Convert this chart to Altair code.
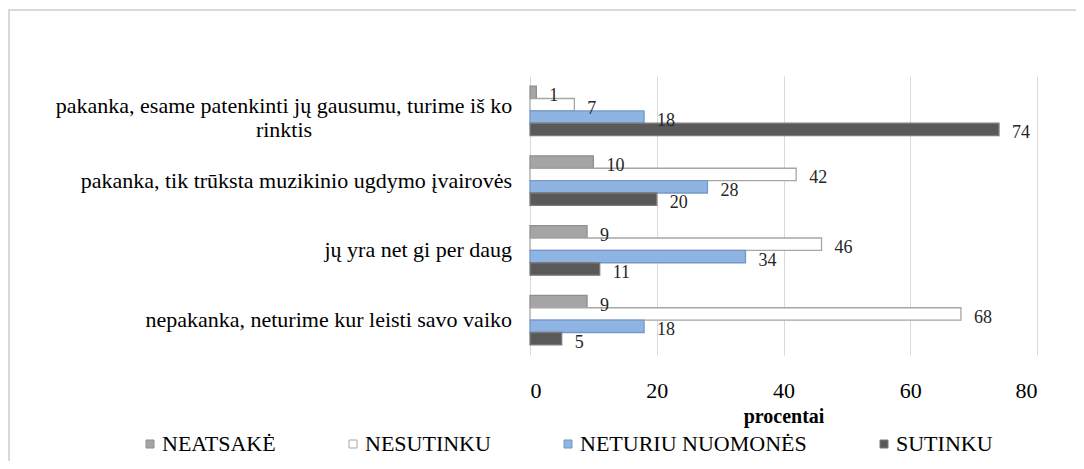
import altair as alt
import pandas as pd

FONT = "Liberation Serif"

categories = [
    "pakanka, esame patenkinti jų gausumu, turime iš ko rinktis",
    "pakanka, tik trūksta muzikinio ugdymo įvairovės",
    "jų yra net gi per daug",
    "nepakanka, neturime kur leisti savo vaiko",
]
category_lines = [
    ["pakanka, esame patenkinti jų gausumu, turime iš ko", "rinktis"],
    ["pakanka, tik trūksta muzikinio ugdymo įvairovės"],
    ["jų yra net gi per daug"],
    ["nepakanka, neturime kur leisti savo vaiko"],
]
series = ["NEATSAKĖ", "NESUTINKU", "NETURIU NUOMONĖS", "SUTINKU"]
neatsake = [1, 10, 9, 9]
nesutinku = [7, 42, 46, 68]
neturiu = [18, 28, 34, 18]
sutinku = [74, 20, 11, 5]
x_ticks = [0, 20, 40, 60, 80]

fills = ["#a5a5a5", "#ffffff", "#8eb4e3", "#595959"]
strokes = ["#8f8f8f", "#a6a6a6", "#7598c8", "#7a7a7a"]

rows = []
for s, vals in zip(series, [neatsake, nesutinku, neturiu, sutinku]):
    for c, v in zip(categories, vals):
        rows.append({"category": c, "series": s, "value": v})
df = pd.DataFrame(rows)

lab_df = pd.DataFrame({
    "category": categories,
    "label": ["\n".join(l) for l in category_lines],
    "nlines": [len(l) for l in category_lines],
})

y_enc = alt.Y("category:N", sort=categories,
              scale=alt.Scale(domain=categories, paddingInner=0.29, paddingOuter=0.145),
              axis=None)
yoff_enc = alt.YOffset("series:N", sort=series,
                       scale=alt.Scale(domain=series, paddingInner=0, paddingOuter=0))
x_enc = alt.X("value:Q",
              scale=alt.Scale(domain=[0, 80], nice=False, zero=True),
              axis=alt.Axis(values=x_ticks, title="procentai", grid=True,
                            gridColor="#d9d9d9", gridWidth=1, ticks=False, domain=False,
                            labelFont=FONT, labelFontSize=22, labelColor="#000000",
                            labelPadding=25, titleFont=FONT, titleFontSize=20,
                            titleFontWeight="bold", titleColor="#000000",
                            titleBaseline="middle", titleY=61))

legend = alt.Legend(orient="none", legendX=-391, legendY=357, direction="horizontal",
                    columns=4, title=None, symbolType="square", symbolSize=64,
                    symbolStrokeWidth=1, labelFont=FONT, labelFontSize=22,
                    labelColor="#000000", columnPadding=66, labelOffset=1,
                    labelLimit=600)

bars = alt.Chart(df).mark_bar(strokeWidth=1.3).encode(
    x=x_enc,
    y=y_enc,
    yOffset=yoff_enc,
    fill=alt.Fill("series:N", sort=series, scale=alt.Scale(domain=series, range=fills), legend=legend),
    stroke=alt.Stroke("series:N", sort=series, scale=alt.Scale(domain=series, range=strokes), legend=legend),
)

values_text = alt.Chart(df).mark_text(align="left", baseline="middle", dx=13, dy=4,
                                       font=FONT, fontSize=18, color="#262626").encode(
    x="value:Q",
    y=y_enc,
    yOffset=yoff_enc,
    text="value:Q",
)

single_labels = alt.Chart(lab_df).transform_filter("datum.nlines == 1").mark_text(
    align="right", baseline="middle", font=FONT, fontSize=22, color="#000000"
).encode(
    y=y_enc,
    x=alt.value(-18),
    text="label:N",
)

multi_labels = alt.Chart(lab_df).transform_filter("datum.nlines > 1").mark_text(
    align="center", baseline="middle", font=FONT, fontSize=22, color="#000000",
    lineBreak="\n", lineHeight=24, dy=-5
).encode(
    y=y_enc,
    x=alt.value(-246),
    text="label:N",
)

frame_df = pd.DataFrame({"k": [0]})
frame_left = alt.Chart(frame_df).mark_rule(color="#d9d9d9", strokeWidth=2).encode(
    x=alt.value(-521), x2=alt.value(-521), y=alt.value(-67), y2=alt.value(400)
)
frame_top = alt.Chart(frame_df).mark_rule(color="#d9d9d9", strokeWidth=2).encode(
    x=alt.value(-522), x2=alt.value(560), y=alt.value(-66), y2=alt.value(-66)
)

chart = alt.layer(frame_left, frame_top, bars, values_text, single_labels, multi_labels).properties(
    width=507, height=279,
    padding={"left": 522, "top": 68, "right": 39, "bottom": 106},
    autosize=alt.AutoSizeParams(type="none"),
).configure(
    background="#ffffff", font=FONT
).configure_view(
    stroke=None
).configure_text(
    font=FONT
).configure_legend(
    labelFont=FONT
).configure_axis(
    labelFont=FONT, titleFont=FONT
)

chart.save("out.html", embed_options={"renderer": "svg", "actions": False})
